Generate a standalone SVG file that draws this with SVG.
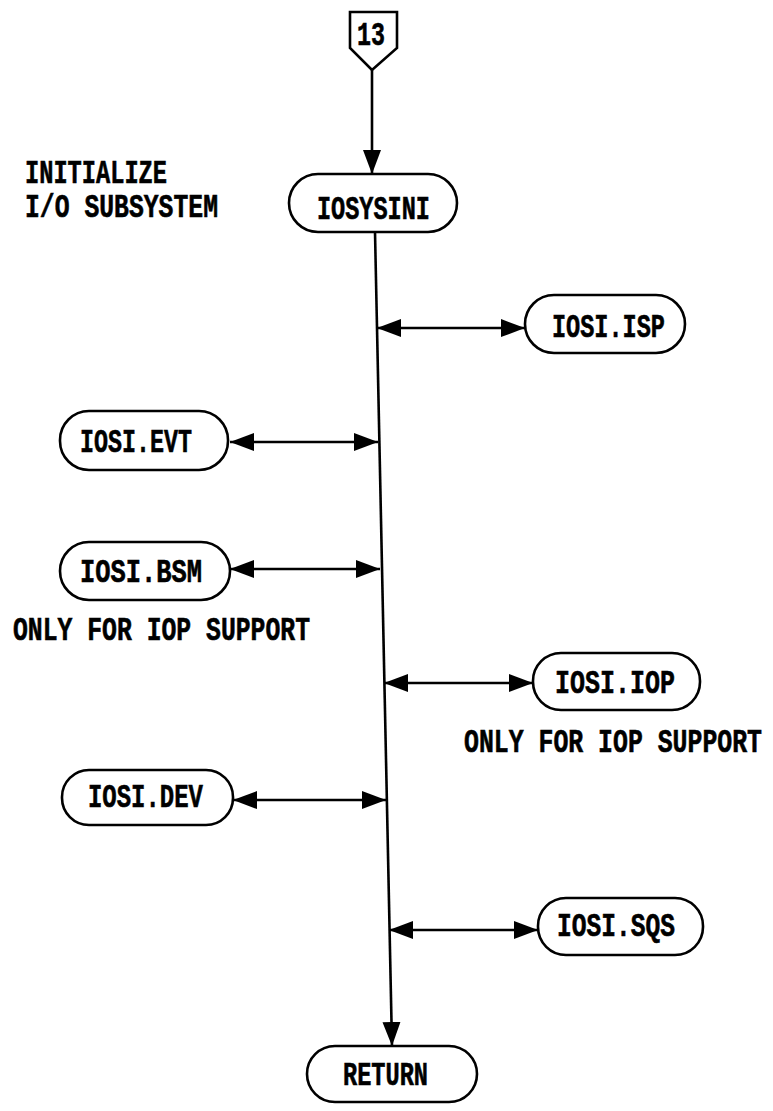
<svg xmlns="http://www.w3.org/2000/svg" width="773" height="1111" viewBox="0 0 773 1111">
<style>
.box{fill:#fff;stroke:#000;stroke-width:2.6}
.t{font-family:"Liberation Mono","Courier New",monospace;font-weight:bold;font-size:25px;fill:#000;stroke:#000;stroke-width:0.45}
.ln{stroke:#000;stroke-width:2.6;fill:none}
</style>
<defs>
<marker id="ah" markerUnits="userSpaceOnUse" markerWidth="26" markerHeight="20" refX="24" refY="9" orient="auto-start-reverse" viewBox="0 0 26 18">
<path d="M0,0 L24,9 L0,18 Z" fill="#000"/>
</marker>
</defs>
<rect width="773" height="1111" fill="#fff"/>
<g id="connectors">
<line class="ln" x1="372" y1="70" x2="372" y2="174" marker-end="url(#ah)"/>
<line class="ln" x1="375" y1="232" x2="392" y2="1046" marker-end="url(#ah)"/>
<line class="ln" x1="377" y1="328" x2="525" y2="328" marker-start="url(#ah)" marker-end="url(#ah)"/>
<line class="ln" x1="230" y1="442" x2="378" y2="442" marker-start="url(#ah)" marker-end="url(#ah)"/>
<line class="ln" x1="230" y1="569" x2="380" y2="569" marker-start="url(#ah)" marker-end="url(#ah)"/>
<line class="ln" x1="384" y1="683" x2="533" y2="683" marker-start="url(#ah)" marker-end="url(#ah)"/>
<line class="ln" x1="233" y1="800" x2="386" y2="800" marker-start="url(#ah)" marker-end="url(#ah)"/>
<line class="ln" x1="389" y1="930" x2="538" y2="930" marker-start="url(#ah)" marker-end="url(#ah)"/>
</g>
<g id="n13">
<path class="box" d="M350,12 L397,12 L397,48 L372,70 L350,48 Z"/>
<text class="t" transform="translate(357,45) scale(1,1.33)" textLength="28" lengthAdjust="spacingAndGlyphs">13</text>
</g>
<g id="title">
<text class="t" transform="translate(25,183) scale(1,1.33)" textLength="142" lengthAdjust="spacingAndGlyphs">INITIALIZE</text>
<text class="t" transform="translate(25,217) scale(1,1.33)" textLength="193" lengthAdjust="spacingAndGlyphs">I/O SUBSYSTEM</text>
</g>
<g id="iosysini">
<rect class="box" x="289" y="174" width="168" height="58" rx="29"/>
<text class="t" transform="translate(317,219) scale(1,1.33)" textLength="113" lengthAdjust="spacingAndGlyphs">IOSYSINI</text>
</g>
<g id="isp">
<rect class="box" x="525" y="295" width="160" height="58" rx="29"/>
<text class="t" transform="translate(552,337) scale(1,1.33)" textLength="113" lengthAdjust="spacingAndGlyphs">IOSI.ISP</text>
</g>
<g id="evt">
<rect class="box" x="60" y="411" width="168" height="59" rx="29"/>
<text class="t" transform="translate(80,452) scale(1,1.33)" textLength="112" lengthAdjust="spacingAndGlyphs">IOSI.EVT</text>
</g>
<g id="bsm">
<rect class="box" x="60" y="542" width="170" height="58" rx="29"/>
<text class="t" transform="translate(80,582) scale(1,1.33)" textLength="122" lengthAdjust="spacingAndGlyphs">IOSI.BSM</text>
<text class="t" transform="translate(13,640) scale(1,1.33)" textLength="297" lengthAdjust="spacingAndGlyphs">ONLY FOR IOP SUPPORT</text>
</g>
<g id="iop">
<rect class="box" x="533" y="653" width="167" height="57" rx="28"/>
<text class="t" transform="translate(555,693) scale(1,1.33)" textLength="120" lengthAdjust="spacingAndGlyphs">IOSI.IOP</text>
<text class="t" transform="translate(464,752) scale(1,1.33)" textLength="298" lengthAdjust="spacingAndGlyphs">ONLY FOR IOP SUPPORT</text>
</g>
<g id="dev">
<rect class="box" x="62" y="770" width="171" height="55" rx="27"/>
<text class="t" transform="translate(88,807) scale(1,1.33)" textLength="115" lengthAdjust="spacingAndGlyphs">IOSI.DEV</text>
</g>
<g id="sqs">
<rect class="box" x="538" y="898" width="165" height="57" rx="28"/>
<text class="t" transform="translate(557,936) scale(1,1.33)" textLength="118" lengthAdjust="spacingAndGlyphs">IOSI.SQS</text>
</g>
<g id="return">
<rect class="box" x="307" y="1046" width="170" height="56" rx="28"/>
<text class="t" transform="translate(343,1085) scale(1,1.33)" textLength="85" lengthAdjust="spacingAndGlyphs">RETURN</text>
</g>
</svg>
